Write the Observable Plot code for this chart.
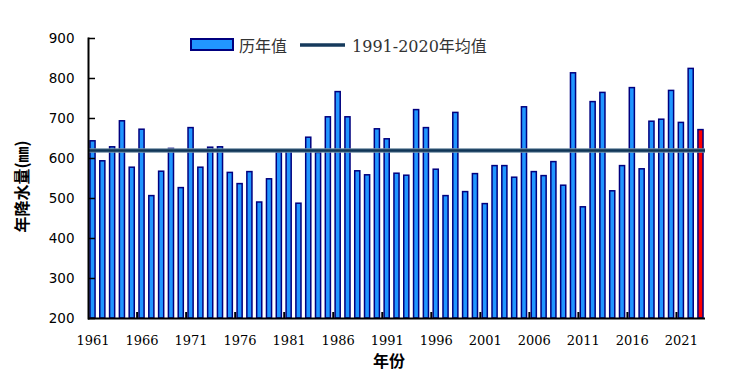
<!DOCTYPE html>
<html>
<head>
<meta charset="utf-8">
<script src="https://cdn.jsdelivr.net/npm/d3@7"></script>
<script src="https://cdn.jsdelivr.net/npm/@observablehq/plot@0.6"></script>
<style>
  body { margin: 0; background: #fff; }
  #wrap { position: relative; width: 738px; height: 385px; }
  #legend { position: absolute; left: 190px; top: 33px; display: flex; align-items: center;
    font-family: "DejaVu Serif", "Noto Sans CJK SC", serif; font-size: 16px; color: #333; white-space: nowrap; }
  #legend .item { display: flex; align-items: center; }
</style>
</head>
<body>
<div id="wrap">
  <div id="chart"></div>
  <div id="legend">
    <div class="item"><svg width="46" height="16"><rect x="1" y="2" width="42" height="11" fill="#2196ff" stroke="#00007f" stroke-width="2"/></svg><span style="margin-left:3px">历年值</span></div>
    <div class="item" style="margin-left:12px"><svg width="48" height="16"><line x1="1" y1="8" x2="46" y2="8" stroke="#163a5c" stroke-width="3.5"/></svg><span style="margin-left:5px">1991-2020年均值</span></div>
  </div>
</div>
<script>
const years = d3.range(1961, 2024);
const precip = [
  643, 593, 628, 693, 577, 672, 506, 567, 624, 526,
  676, 577, 627, 628, 564, 536, 566, 490, 548, 615,
  617, 487, 652, 614, 703, 766, 703, 568, 558, 673,
  648, 562, 557, 721, 676, 572, 506, 714, 516, 561,
  486, 581, 581, 552, 728, 566, 556, 591, 532, 813,
  478, 741, 764, 518, 581, 776, 573, 692, 697, 769,
  689, 824, 671
];
const normal = 620;
const yTicks = [200, 300, 400, 500, 600, 700, 800, 900];
const xTickYears = years.filter(y => (y - 1961) % 5 === 0);
const minorYears = xTickYears.slice(1);

const data = years.map((year, i) => ({year, value: precip[i]}));

const W = 738, H = 385;
const mL = 88, mR = 33, mT = 38, mB = 67;
const plotW = W - mL - mR, plotH = H - mT - mB;
const pIn = 0.48, pOut = 0.2;
const step = plotW / (years.length - pIn + 2 * pOut);

const chart = Plot.plot({
  width: W, height: H,
  marginLeft: mL, marginRight: mR, marginTop: mT, marginBottom: mB,
  x: {type: "band", domain: years, paddingInner: pIn, paddingOuter: pOut, axis: null},
  y: {domain: [200, 900], axis: null},
  marks: [
    Plot.barY(data, {x: "year", y1: 200, y2: "value",
      fill: d => d.year === 2023 ? "#ff0000" : "#2196ff",
      stroke: "#00007f", strokeWidth: 1.5}),
    Plot.ruleY([normal], {stroke: "#6f8ca3", strokeWidth: 4.5}),
    Plot.ruleY([normal], {stroke: "#0f3556", strokeWidth: 2.5}),
    Plot.ruleY(yTicks, {y: d => d, stroke: "#000", strokeWidth: 1.5, insetRight: plotW - 7}),
    Plot.ruleX(minorYears, {x: d => d, dx: -step / 2, stroke: "#000", strokeWidth: 2, insetTop: plotH - 6}),
    Plot.ruleY([200], {stroke: "#000", strokeWidth: 2}),
    Plot.frame({anchor: "left", stroke: "#000", strokeWidth: 2}),
    Plot.axisY({ticks: yTicks, tickSize: 0, tickPadding: 14, tickFormat: d => String(d),
      fontSize: 13.5, fontFamily: "DejaVu Sans", label: null, color: "#000"}),
    Plot.axisX({ticks: xTickYears, tickSize: 0, tickPadding: 17, tickFormat: d => String(d),
      fontSize: 13, fontFamily: "DejaVu Serif", label: null, color: "#000"}),
    Plot.text(["年降水量(㎜)"], {frameAnchor: "left", textAnchor: "middle", lineAnchor: "middle",
      dx: -66, dy: 8, rotate: -90,
      fontSize: 16, fontWeight: "bold", fontFamily: "Noto Sans CJK SC", fill: "#000"}),
    Plot.text(["年份"], {frameAnchor: "bottom", dx: -8, dy: 48,
      fontSize: 16, fontWeight: "bold", fontFamily: "Noto Sans CJK SC", fill: "#000"})
  ]
});
document.getElementById("chart").appendChild(chart);
</script>
</body>
</html>
